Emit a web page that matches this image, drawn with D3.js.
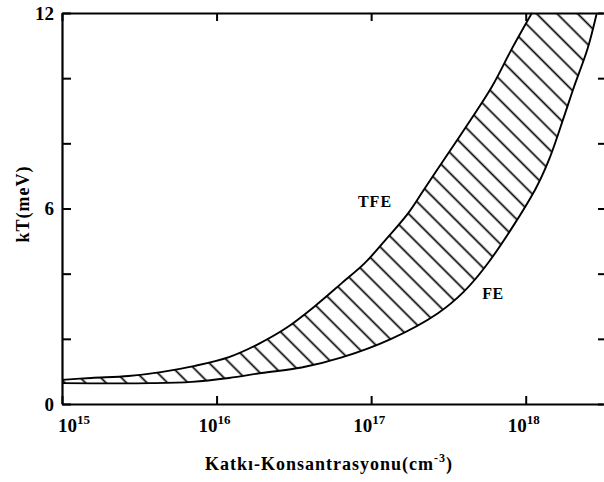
<!DOCTYPE html>
<html>
<head>
<meta charset="utf-8">
<script src="https://cdn.jsdelivr.net/npm/d3@7"></script>
<style>
  html, body { margin: 0; padding: 0; background: #fff; }
  svg { display: block; }
</style>
</head>
<body>
<svg id="chart" width="604" height="482"></svg>
<script>
// ---- data (log10 of doping concentration, kT in meV) ----
const tfeLogN = [15.0, 15.19, 15.43, 15.64, 15.86, 16.08, 16.27, 16.45, 16.63, 16.81, 16.96, 17.11, 17.24, 17.34, 17.47, 17.60, 17.78, 17.91, 18.04];
const tfeKT   = [0.74, 0.80, 0.86, 0.98, 1.17, 1.44, 1.84, 2.33, 2.98, 3.71, 4.33, 5.13, 5.86, 6.57, 7.49, 8.41, 9.73, 10.90, 12.0];
const feLogN  = [15.0, 15.58, 15.84, 16.08, 16.29, 16.55, 16.81, 17.13, 17.43, 17.60, 17.76, 18.06, 18.15, 18.25, 18.31, 18.40, 18.46];
const feKT    = [0.64, 0.64, 0.68, 0.80, 0.95, 1.12, 1.43, 2.00, 2.78, 3.45, 4.35, 6.57, 7.49, 8.85, 9.70, 10.90, 12.0];
const xTickExp = [15, 16, 17, 18];
const yTicksAll = [0, 2, 4, 6, 8, 10, 12];
const yTicksLabeled = [0, 6, 12];
const xDomainExp = [15, 18.5];
const yDomain = [0, 12];
const curveLabels = ["TFE", "FE"];
const xTitle = "Katkı-Konsantrasyonu(cm";
const xTitleSup = "-3";
const yTitle = "kT(meV)";

// ---- layout ----
const FONT = "'Liberation Serif', 'Times New Roman', Tinos, 'DejaVu Serif', serif";
const L = 62, R = 603, T = 13, B = 404, RAXIS = 608;
const svg = d3.select("#chart");

const x = d3.scaleLog().domain(xDomainExp.map(e => Math.pow(10, e))).range([L, R]);
const y = d3.scaleLinear().domain(yDomain).range([B, T]);

const tfe = tfeLogN.map((e, i) => [Math.pow(10, e), tfeKT[i]]);
const fe  = feLogN.map((e, i) => [Math.pow(10, e), feKT[i]]);

const line = d3.line().x(d => x(d[0])).y(d => y(d[1])).curve(d3.curveCatmullRom.alpha(0.5));

// ---- hatch pattern ----
const HS = 14.5;
const defs = svg.append("defs");
const pat = defs.append("pattern")
  .attr("id", "hatch")
  .attr("patternUnits", "userSpaceOnUse")
  .attr("width", HS).attr("height", HS)
  .attr("patternTransform", "rotate(-45)");
pat.append("line")
  .attr("x1", HS / 2).attr("y1", -2).attr("x2", HS / 2).attr("y2", HS + 2)
  .attr("stroke", "#000").attr("stroke-width", 1.7);

defs.append("clipPath").attr("id", "belowTFE")
  .append("path")
  .attr("d", line(tfe) + `L${R},${T}L${R},${B}L${L},${B}Z`);
defs.append("clipPath").attr("id", "aboveFE")
  .append("path")
  .attr("d", line(fe) + `L${L},${T}Z`);

svg.append("g").attr("clip-path", "url(#belowTFE)")
  .append("g").attr("clip-path", "url(#aboveFE)")
  .append("rect")
  .attr("x", L).attr("y", T).attr("width", R - L).attr("height", B - T)
  .attr("fill", "url(#hatch)");

// ---- curves ----
[tfe, fe].forEach(s => {
  svg.append("path").attr("d", line(s)).attr("fill", "none")
    .attr("stroke", "#000").attr("stroke-width", 1.9);
});

// ---- axes ----
const xTickVals = xTickExp.map(e => Math.pow(10, e));
function styleAxis(g) {
  g.selectAll("path.domain").attr("stroke", "#000").attr("stroke-width", 2.2);
  g.selectAll(".tick line").attr("stroke", "#000").attr("stroke-width", 2);
  g.selectAll(".tick text").remove();
}
svg.append("g").attr("transform", `translate(0,${B})`)
  .call(d3.axisBottom(x).tickValues(xTickVals).tickSizeInner(-8).tickSizeOuter(0).tickFormat(""))
  .call(styleAxis);
svg.append("g").attr("transform", `translate(0,${T})`)
  .call(d3.axisTop(x).tickValues(xTickVals).tickSizeInner(-8).tickSizeOuter(0).tickFormat(""))
  .call(styleAxis);
svg.append("g").attr("transform", `translate(${L},0)`)
  .call(d3.axisLeft(y).tickValues(yTicksAll).tickSizeInner(-9).tickSizeOuter(0).tickFormat(""))
  .call(styleAxis);
svg.append("g").attr("transform", `translate(${RAXIS},0)`)
  .call(d3.axisRight(y).tickValues(yTicksAll).tickSizeInner(-10).tickSizeOuter(0).tickFormat(""))
  .call(styleAxis);

const T_ = sel => sel.attr("font-family", FONT).attr("font-weight", "bold").attr("fill", "#000");

// y tick labels
svg.append("g").selectAll("text").data(yTicksLabeled).join("text")
  .call(T_)
  .attr("x", L - 8).attr("y", d => y(d)).attr("dy", "0.35em")
  .attr("text-anchor", "end").attr("font-size", 19)
  .text(d => d);

// x tick labels (10^n)
const xl = svg.append("g").selectAll("text").data(xTickExp).join("text")
  .call(T_)
  .attr("x", (d, i) => i === 0 ? L - 4 : x(Math.pow(10, d)) - 2)
  .attr("y", 432)
  .attr("text-anchor", (d, i) => i === 0 ? "start" : "middle")
  .attr("font-size", 19);
xl.append("tspan").text("10");
xl.append("tspan").attr("font-size", 13).attr("dy", -8).text(d => d);

// axis titles
const xt = svg.append("text").call(T_).attr("x", 329).attr("y", 470)
  .attr("text-anchor", "middle").attr("font-size", 18).attr("letter-spacing", 1);
xt.append("tspan").text(xTitle);
xt.append("tspan").attr("font-size", 12).attr("dy", -8).text(xTitleSup);
xt.append("tspan").attr("dy", 8).text(")");

svg.append("text").call(T_)
  .attr("transform", `translate(29,204) rotate(-90)`)
  .attr("text-anchor", "middle").attr("font-size", 18).attr("letter-spacing", 1)
  .text(yTitle);

// curve labels
svg.append("text").call(T_).attr("x", 375).attr("y", 207).attr("text-anchor", "middle")
  .attr("font-size", 16).attr("letter-spacing", 1).text(curveLabels[0]);
svg.append("text").call(T_).attr("x", 493).attr("y", 299).attr("text-anchor", "middle")
  .attr("font-size", 16).attr("letter-spacing", 0.5).text(curveLabels[1]);
</script>
</body>
</html>
